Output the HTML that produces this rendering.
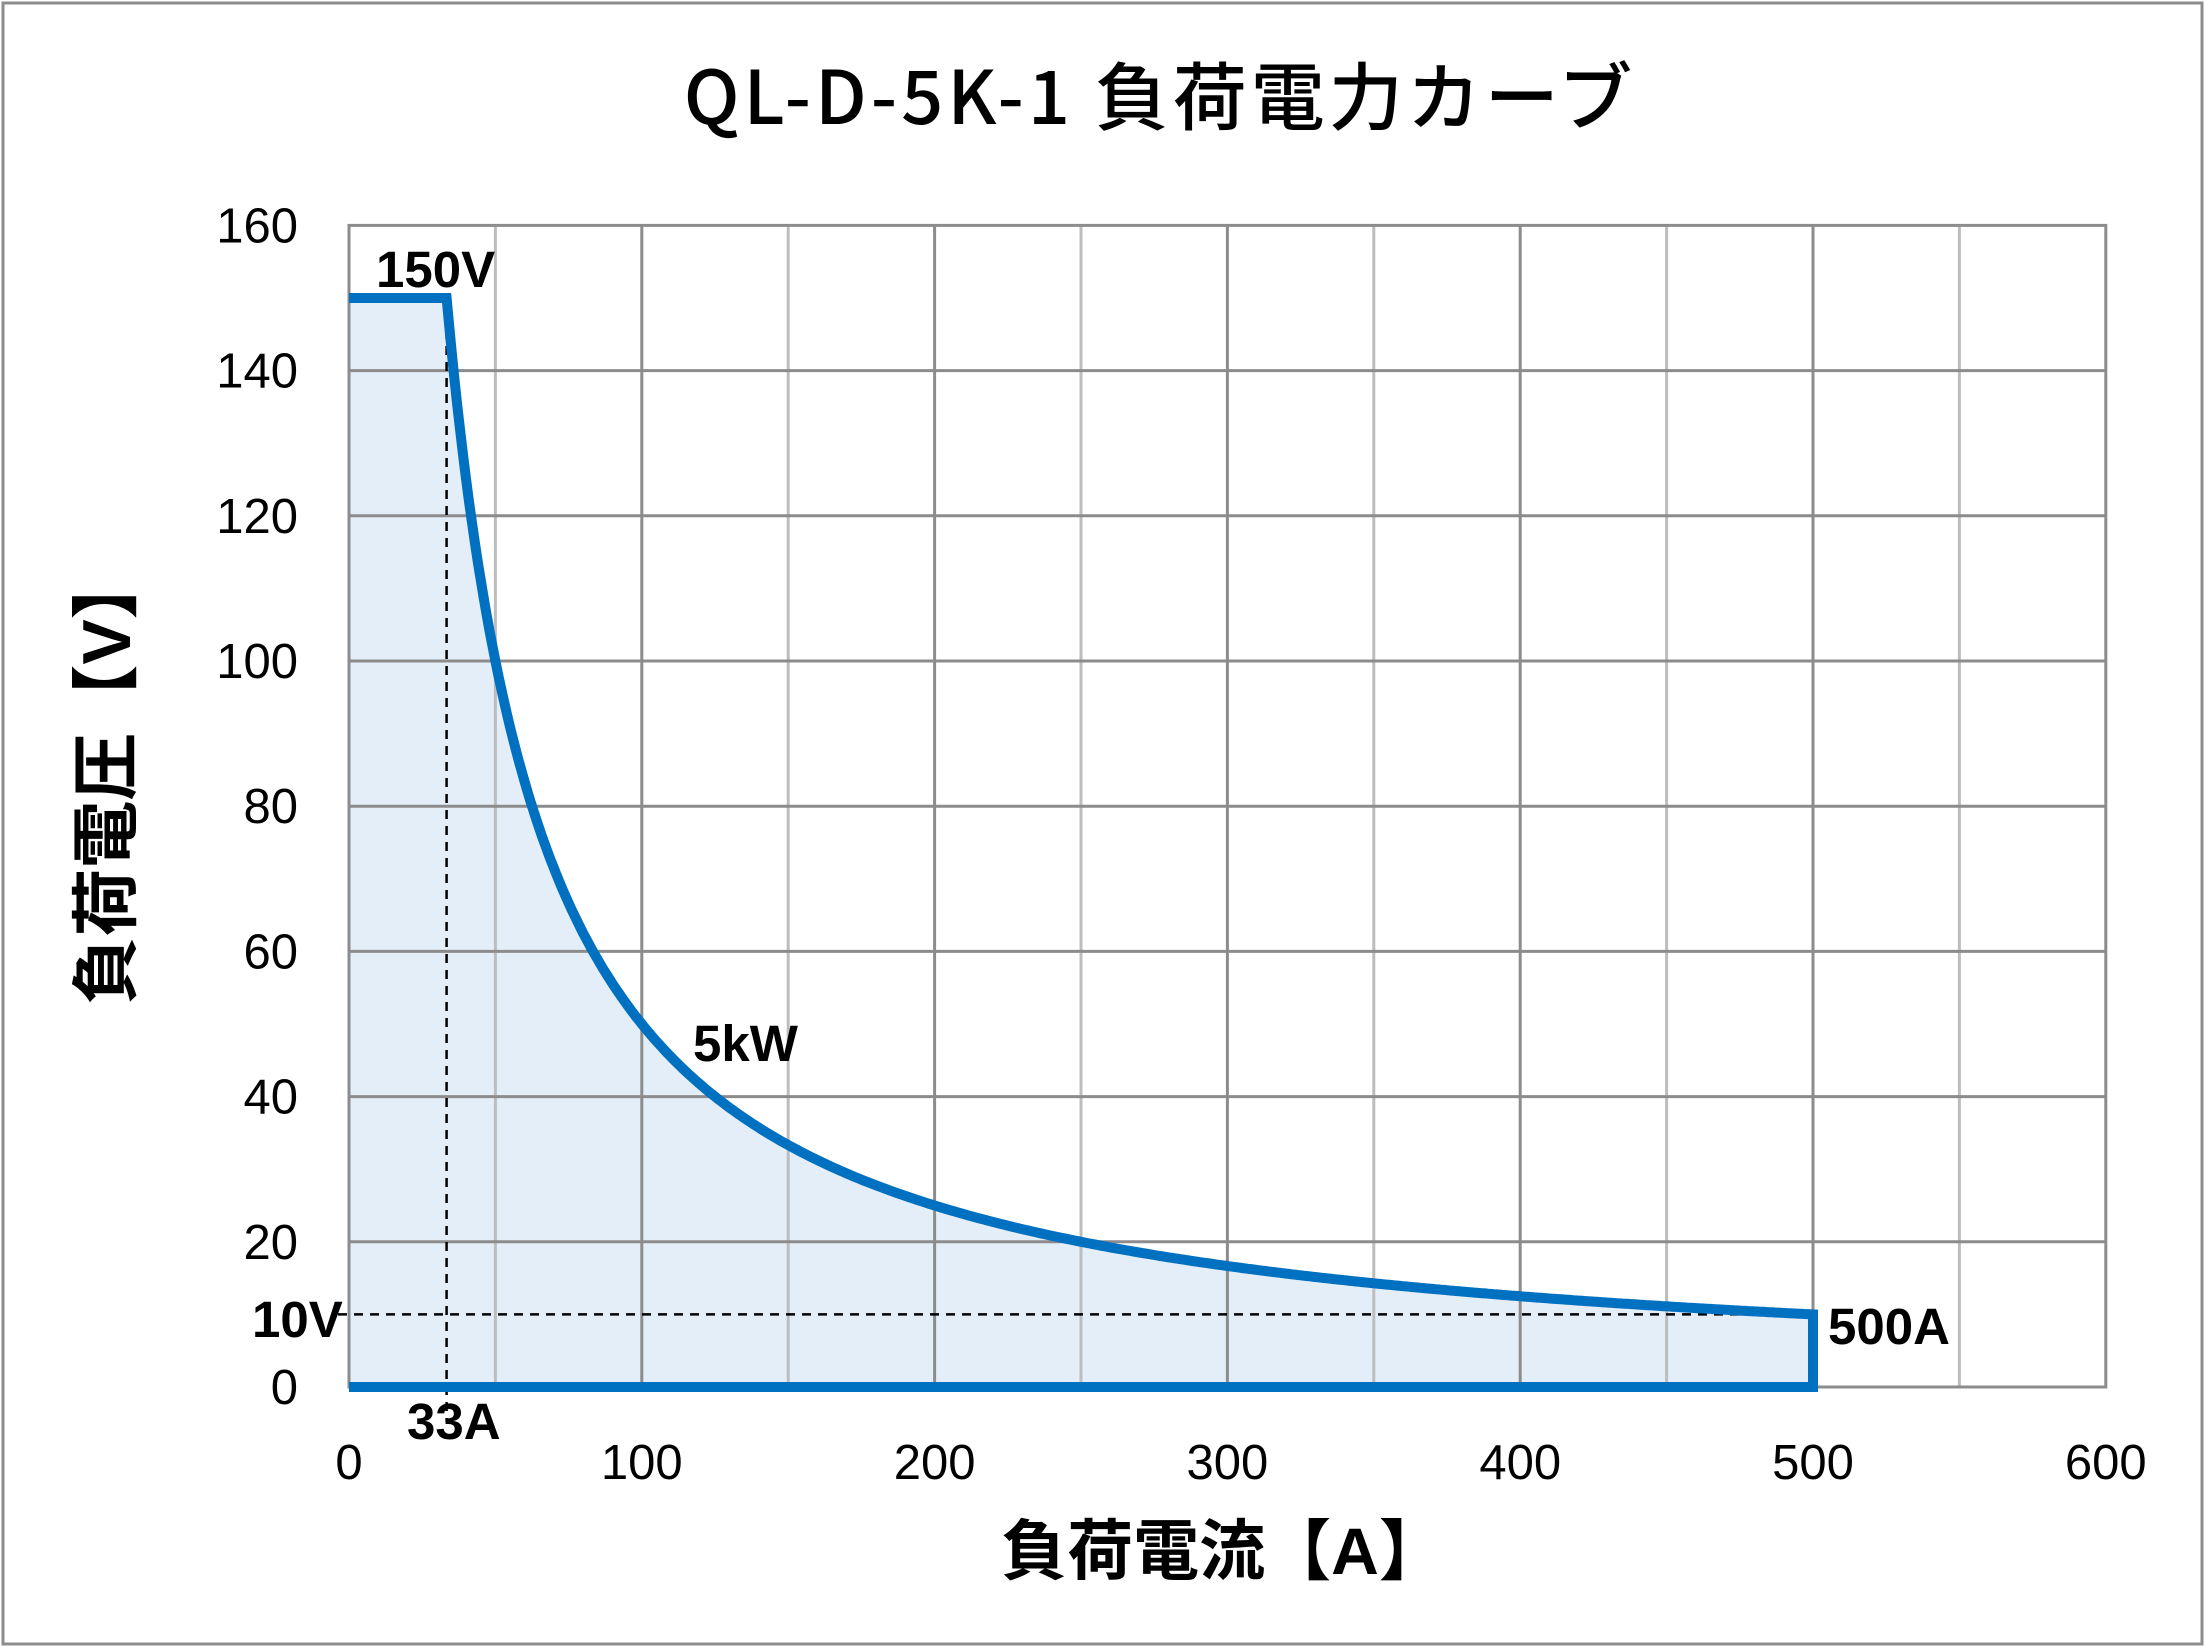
<!DOCTYPE html>
<html><head><meta charset="utf-8"><style>
html,body{margin:0;padding:0;background:#fff}
svg{display:block}
text{font-family:"Liberation Sans","Noto Sans CJK JP",sans-serif;fill:#000}
.t{font-size:49px}
.b{font-size:51px;font-weight:bold}
</style></head><body>
<svg width="2205" height="1647" viewBox="0 0 2205 1647" xmlns="http://www.w3.org/2000/svg">
<rect x="3" y="3" width="2199" height="1641" fill="#fff" stroke="#8c8c8c" stroke-width="3"/>
<text x="1160" y="124" text-anchor="middle" style="font-family:'Noto Sans CJK JP',sans-serif;font-size:74px;font-weight:500;letter-spacing:4px">QL-D-5K-1 負荷電力カーブ</text>
<g id="plot"></g>
<script>
(function(){
var X=function(a){return 349+a*2.928},Y=function(v){return 1387-v*7.26};
var s="M"+X(0)+","+Y(150)+" L"+X(33.33)+","+Y(150);
for(var a=34;a<=500;a+=1){s+=" L"+X(a).toFixed(1)+","+Y(5000/a).toFixed(1);}
var curve=s;
var NS="http://www.w3.org/2000/svg",g=document.getElementById("plot");
function el(n,at){var e=document.createElementNS(NS,n);for(var k in at)e.setAttribute(k,at[k]);g.appendChild(e);return e;}
el("path",{d:curve+" L"+X(500)+","+Y(0)+" L"+X(0)+","+Y(0)+" Z",fill:"#e4eef8"});
for(var i=1;i<12;i++){var x=X(i*50);el("line",{x1:x,y1:Y(160),x2:x,y2:Y(0),stroke:i%2?"#bdbdbd":"#8c8c8c","stroke-width":3});}
for(var j=1;j<8;j++){var y=Y(j*20);el("line",{x1:X(0),y1:y,x2:X(600),y2:y,stroke:"#8c8c8c","stroke-width":3});}
el("rect",{x:X(0),y:Y(160),width:X(600)-X(0),height:Y(0)-Y(160),fill:"none",stroke:"#8c8c8c","stroke-width":3});
el("line",{x1:X(33.33),y1:Y(150),x2:X(33.33),y2:1422,stroke:"#000","stroke-width":2.5,"stroke-dasharray":"9,7"});
el("line",{x1:338,y1:Y(10),x2:X(500),y2:Y(10),stroke:"#000","stroke-width":2.5,"stroke-dasharray":"9,7"});
el("path",{d:curve+" L"+X(500)+","+Y(0)+" L"+X(0)+","+Y(0),fill:"none",stroke:"#0070c0","stroke-width":10,"stroke-linejoin":"miter"});
function tx(x,y,t,cls,anc){var e=el("text",{x:x,y:y,"class":cls,"text-anchor":anc||"middle"});e.textContent=t;}
for(var j=0;j<=8;j++)tx(298,Y(j*20)+17,String(j*20),"t","end");
for(var i=0;i<=6;i++)tx(X(i*100),1479,String(i*100),"t");
tx(376,287,"150V","b","start");
tx(252,1337,"10V","b","start");
tx(407,1439,"33A","b","start");
tx(693,1061,"5kW","b","start");
tx(1828,1344,"500A","b","start");
})();
</script>
<text x="1223" y="1574" text-anchor="middle" style="font-size:66px;font-weight:bold">負荷電流【A】</text>
<text transform="translate(130,778) rotate(-90)" text-anchor="middle" style="font-size:68px;font-weight:bold">負荷電圧【V】</text>
</svg>
</body></html>
